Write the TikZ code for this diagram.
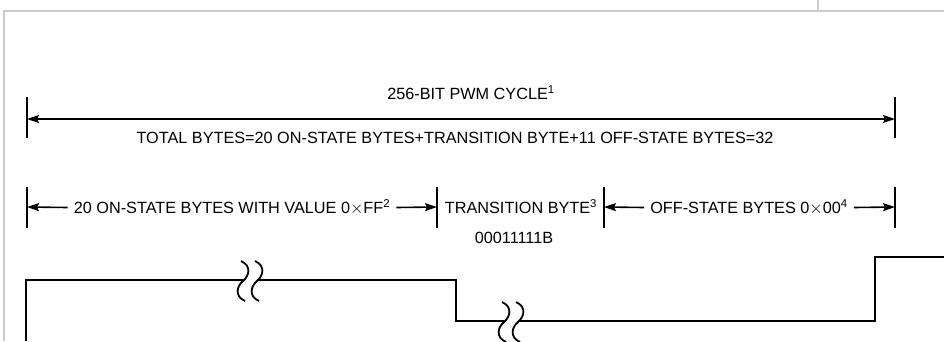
\documentclass[tikz,border=0pt]{standalone}
\usepackage{fontspec}
\setmainfont{Liberation Sans}
\usetikzlibrary{arrows.meta, positioning}
\tikzset{
    txt/.style={inner ysep=0pt, inner xsep=6bp, text height=11.6bp, text depth=0pt, font=\fontsize{16.3}{19}\selectfont},
    arrow/.style={-{Stealth[length=12bp, width=8bp, inset=2bp]}, line width=1.6bp},
    dimline/.style={{Stealth[length=12bp, width=8bp, inset=2bp]}-{Stealth[length=12bp, width=8bp, inset=2bp]}, line width=1.6bp},
    tickmark/.style={line width=1.8bp},
    wave/.style={line width=1.8bp},
    frame/.style={draw=black!20, line width=1.5bp}
}

\begin{document}
\begin{tikzpicture}[x=1bp, y=-1bp]
\useasboundingbox (0,0) rectangle (944,341);
\draw[frame] (4,341) -- (4,11) -- (944,11);
\draw[frame] (818,0) -- (818,11);

\coordinate (c1) at (27,119);
\coordinate (c2) at (895,119);
\draw[tickmark] (27,97) -- (27,138);
\draw[tickmark] (895,97) -- (895,138);
\node[txt] (cycle) at (471,94) {256-BIT PWM CYCLE\textsuperscript{1}};
\node[txt] (total) at (455,137.5) {TOTAL BYTES=20 ON-STATE BYTES+TRANSITION BYTE+11 OFF-STATE BYTES=32};
\draw[dimline] (c1) -- (c2);

\coordinate (d1) at (27,207);
\coordinate (d2) at (437,207);
\coordinate (d3) at (604,207);
\coordinate (d4) at (895,207);
\draw[tickmark] (27,187) -- (27,228);
\draw[tickmark] (437,187) -- (437,228);
\draw[tickmark] (604,187) -- (604,228);
\draw[tickmark] (895,187) -- (895,228);
\node[txt] (on) at (232,207.5) {20 ON-STATE BYTES WITH VALUE 0$\times$FF\textsuperscript{2}};
\node[txt] (trans) at (521,207.5) {TRANSITION BYTE\textsuperscript{3}};
\node[txt] (off) at (749,207.5) {OFF-STATE BYTES 0$\times$00\textsuperscript{4}};
\node[txt] (code) at (514,238) {00011111B};
\draw[arrow] (on.west) -- (d1);
\draw[arrow] (on.east) -- (d2);
\draw[arrow] (off.west) -- (d3);
\draw[arrow] (off.east) -- (d4);

\draw[wave] (26,341) -- (26,280) -- (456,280) -- (456,321) -- (875,321) -- (875,257) -- (946,257);
\foreach \x/\y in {243/280, 504/321} {
  \fill[white] (\x,\y-3) rectangle (\x+14,\y+3);
  \foreach \dx in {0,14}
    \draw[wave] (\x+\dx-2,\y-19) .. controls (\x+\dx+9,\y-14) and (\x+\dx+6,\y-4) .. (\x+\dx,\y+1) .. controls (\x+\dx-6,\y+6) and (\x+\dx-9,\y+16) .. (\x+\dx+2,\y+21);
}
\end{tikzpicture}
\end{document}
